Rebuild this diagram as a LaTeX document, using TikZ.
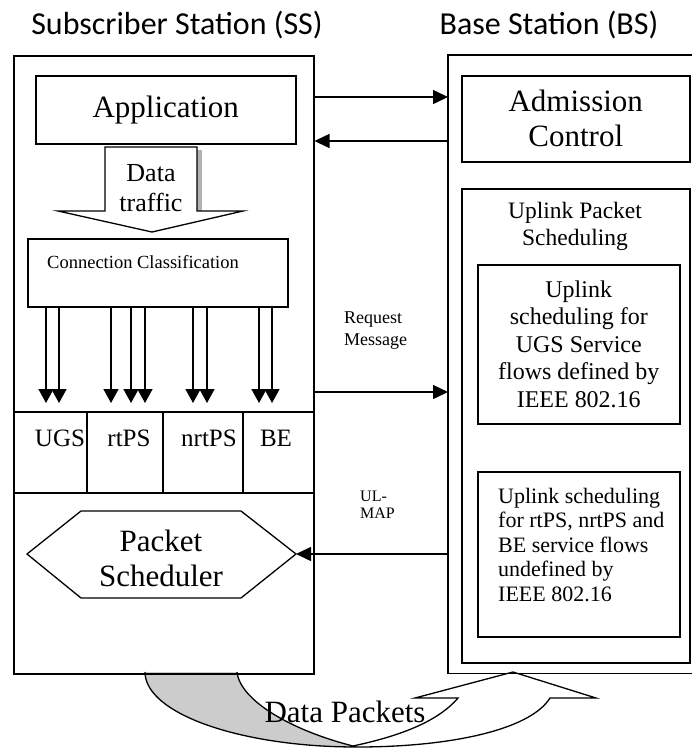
\documentclass[tikz,border=0pt]{standalone}
\usepackage{fontspec}
\setmainfont{Liberation Serif}
\newfontfamily\titlefont{Carlito}
\usetikzlibrary{arrows.meta}
\newcommand\bigtxt{\fontsize{31}{35}\selectfont}
\begin{document}
\begin{tikzpicture}[x=1pt,y=-1pt,
  box/.style={draw,line width=1.5pt,inner sep=0pt},
  thin/.style={line width=1.3pt},
  arr/.style={line width=1.5pt,-{Triangle[length=15pt,width=14pt]}},
  darr/.style={line width=1.5pt,-{Triangle[length=14pt,width=15pt]}},
  title/.style={font=\titlefont\fontsize{32}{36}\selectfont,anchor=base},
  lbl/.style={anchor=west,align=left,inner sep=0pt}]
\useasboundingbox (0,0) rectangle (692,748);

% curved "Data Packets" arrow below the two stations
\begin{scope}
  \clip (0,0) rectangle (692,748);
  \fill[gray!40] (145,672) arc[start angle=180,end angle=90,x radius=212,y radius=75]
    -- (353,746) .. controls (290,730) and (240,700) .. (237,672) -- cycle;
  \draw[thin] (145,672) arc[start angle=180,end angle=90,x radius=212,y radius=75]
    .. controls (450,747) and (530,730) .. (550,698)
    -- (596,698) -- (513,672) -- (415,698) -- (458,698)
    .. controls (435,725) and (390,738) .. (353,746)
    .. controls (290,730) and (240,700) .. (237,672);
\end{scope}

% station titles
\node[title] (sst) at (177,34) {Subscriber Station (SS)};
\node[title] (bst) at (549,34) {Base Station (BS)};

% subscriber station
\node[box,anchor=north west,minimum width=300pt,minimum height=618pt] (ss) at (13,55) {};
\node[box,anchor=north west,minimum width=260pt,minimum height=68pt,font=\bigtxt] (app) at (35,75) {Application};

% data traffic block arrow with its shadow
\fill[gray!60] (197,150) rectangle (202,211);
\draw[thin,fill=white] (105,147) -- (197,147) -- (197,211) -- (243,211) -- (152,232)
  -- (58,211) -- (105,211) -- cycle;
\node[align=center,font=\fontsize{26}{30}\selectfont] (dt) at (151,188) {Data\\traffic};

\node[box,anchor=north west,minimum width=260pt,minimum height=68pt] (cc) at (27,238) {};
\node[lbl,font=\fontsize{18.5}{22}\selectfont] (cct) at (47,262) {Connection Classification};

% service class row
\node[box,anchor=north west,minimum width=300pt,minimum height=81pt] (row) at (13,411) {};
\foreach \d in {87,163,243} \draw[line width=1.5pt] (\d,411) -- (\d,492);
\node[font=\fontsize{25}{30}\selectfont] (ugs) at (60,438) {UGS};
\node[font=\fontsize{25}{30}\selectfont] (rtps) at (129,438) {rtPS};
\node[font=\fontsize{25}{30}\selectfont] (nrtps) at (209,438) {nrtPS};
\node[font=\fontsize{25}{30}\selectfont] (be) at (276,438) {BE};

% classified connections into the service classes
\foreach \x in {46,59,111,131,145,193,207,259,272} {
  \coordinate (ax) at (\x,0);
  \draw[darr,shorten >=8pt] (cc.south -| ax) -- (row.north -| ax);
}

% packet scheduler
\draw[thin] (27,554) -- (81,511) -- (241,511) -- (296,554) -- (241,598) -- (81,598) -- cycle;
\coordinate (pse) at (296,554);
\node[align=center,font=\bigtxt] (ps) at (161,558) {Packet\\Scheduler};

% base station (open on the right)
\node[inner sep=0pt,anchor=north west,minimum width=244pt,minimum height=618pt] (bs) at (448,55) {};
\draw[line width=1.5pt] (bs.north east) -- (bs.north west) -- (bs.south west) -- (bs.south east);
\node[box,anchor=north west,minimum width=228pt,minimum height=86pt,align=center,font=\bigtxt] (adm) at (461,75) {Admission\\Control};
\node[box,anchor=north west,minimum width=228pt,minimum height=474pt] (ups) at (461,188) {};
\node[align=center,font=\fontsize{23.5}{27}\selectfont] (upst) at (575,226) {Uplink Packet\\Scheduling};
\node[box,anchor=north west,minimum width=202pt,minimum height=159pt,align=center,font=\fontsize{24}{27.5}\selectfont] (ugsf) at (477,264)
  {Uplink\\scheduling for\\UGS Service\\flows defined by\\IEEE 802.16};
\node[box,anchor=north west,minimum width=202pt,minimum height=165pt] (rtf) at (477,471) {};
\node[lbl,font=\fontsize{22}{24.5}\selectfont] (rtft) at (498,545)
  {Uplink scheduling\\for rtPS, nrtPS and\\BE service flows\\undefined by\\IEEE 802.16};

% messages between the stations
\coordinate (r1) at (0,97);
\coordinate (r2) at (0,141);
\coordinate (r3) at (0,392);
\draw[arr] (ss.east |- r1) -- (bs.west |- r1);
\draw[arr] (bs.west |- r2) -- (ss.east |- r2);
\draw[arr] (ss.east |- r3) -- (bs.west |- r3);
\draw[arr] (bs.west |- pse) -- (pse);
\node[lbl,font=\fontsize{18}{22}\selectfont] (req) at (344,331) {Request\\Message};
\node[lbl,font=\fontsize{16}{17}\selectfont] (ulmap) at (360,505) {UL-\\MAP};

\node[font=\bigtxt] (dp) at (345,712) {Data Packets};
\end{tikzpicture}
\end{document}
